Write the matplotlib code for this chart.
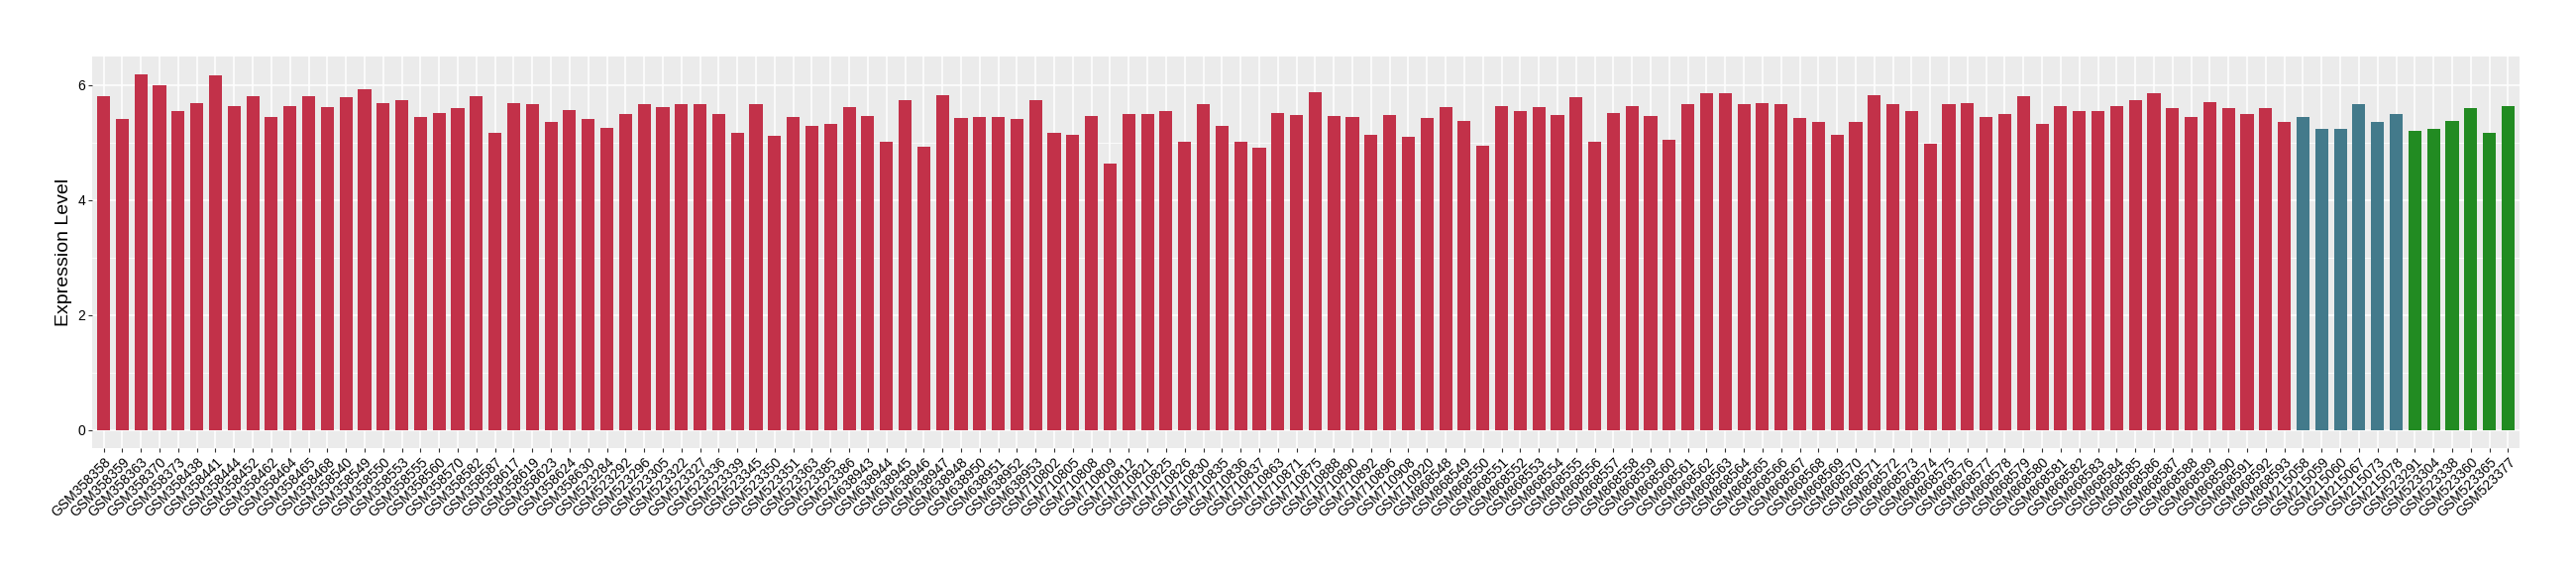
import numpy as np
import matplotlib
matplotlib.use("Agg")
import matplotlib.pyplot as plt
from matplotlib.ticker import MultipleLocator

# first group (red)
red_samples = [
    "GSM358358", "GSM358359", "GSM358363", "GSM358370", "GSM358373", "GSM358438",
    "GSM358441", "GSM358444", "GSM358452", "GSM358462", "GSM358464", "GSM358465",
    "GSM358468", "GSM358540", "GSM358549", "GSM358550", "GSM358553", "GSM358555",
    "GSM358560", "GSM358570", "GSM358582", "GSM358587", "GSM358617", "GSM358619",
    "GSM358623", "GSM358624", "GSM358630", "GSM523284", "GSM523292", "GSM523296",
    "GSM523305", "GSM523322", "GSM523327", "GSM523336", "GSM523339", "GSM523345",
    "GSM523350", "GSM523351", "GSM523363", "GSM523385", "GSM523386", "GSM638943",
    "GSM638944", "GSM638945", "GSM638946", "GSM638947", "GSM638948", "GSM638950",
    "GSM638951", "GSM638952", "GSM638953", "GSM710802", "GSM710805", "GSM710808",
    "GSM710809", "GSM710812", "GSM710821", "GSM710825", "GSM710826", "GSM710830",
    "GSM710835", "GSM710836", "GSM710837", "GSM710863", "GSM710871", "GSM710875",
    "GSM710888", "GSM710890", "GSM710892", "GSM710896", "GSM710908", "GSM710920",
    "GSM868548", "GSM868549", "GSM868550", "GSM868551", "GSM868552", "GSM868553",
    "GSM868554", "GSM868555", "GSM868556", "GSM868557", "GSM868558", "GSM868559",
    "GSM868560", "GSM868561", "GSM868562", "GSM868563", "GSM868564", "GSM868565",
    "GSM868566", "GSM868567", "GSM868568", "GSM868569", "GSM868570", "GSM868571",
    "GSM868572", "GSM868573", "GSM868574", "GSM868575", "GSM868576", "GSM868577",
    "GSM868578", "GSM868579", "GSM868580", "GSM868581", "GSM868582", "GSM868583",
    "GSM868584", "GSM868585", "GSM868586", "GSM868587", "GSM868588", "GSM868589",
    "GSM868590", "GSM868591", "GSM868592", "GSM868593",
]
red_values = [
    5.81, 5.40, 6.19, 5.99, 5.54, 5.69, 6.17, 5.64, 5.81, 5.44, 5.64, 5.80,
    5.61, 5.78, 5.93, 5.69, 5.73, 5.44, 5.52, 5.59, 5.80, 5.16, 5.69, 5.67,
    5.35, 5.57, 5.40, 5.26, 5.50, 5.67, 5.61, 5.66, 5.67, 5.50, 5.16, 5.66,
    5.12, 5.45, 5.29, 5.33, 5.61, 5.46, 5.02, 5.74, 4.93, 5.83, 5.42, 5.44,
    5.45, 5.40, 5.74, 5.16, 5.14, 5.46, 4.64, 5.50, 5.50, 5.55, 5.02, 5.66,
    5.29, 5.02, 4.91, 5.52, 5.48, 5.88, 5.46, 5.45, 5.14, 5.48, 5.10, 5.42,
    5.61, 5.38, 4.95, 5.63, 5.54, 5.61, 5.48, 5.78, 5.02, 5.52, 5.63, 5.46,
    5.05, 5.67, 5.86, 5.86, 5.66, 5.69, 5.67, 5.42, 5.35, 5.14, 5.35, 5.83,
    5.66, 5.55, 4.97, 5.66, 5.69, 5.44, 5.50, 5.81, 5.33, 5.63, 5.54, 5.54,
    5.63, 5.74, 5.85, 5.59, 5.44, 5.71, 5.59, 5.50, 5.59, 5.36,
]

# second group (blue)
blue_samples = ["GSM215058", "GSM215059", "GSM215060", "GSM215067", "GSM215073", "GSM215078"]
blue_values = [5.45, 5.23, 5.23, 5.67, 5.36, 5.50]

# third group (green)
green_samples = ["GSM523291", "GSM523304", "GSM523338", "GSM523360", "GSM523365", "GSM523377"]
green_values = [5.21, 5.24, 5.38, 5.59, 5.17, 5.64]

red_color = "#C23149"
blue_color = "#437A8B"
green_color = "#228B22"

samples = red_samples + blue_samples + green_samples
values = red_values + blue_values + green_values
colors = ([red_color] * len(red_samples) + [blue_color] * len(blue_samples)
          + [green_color] * len(green_samples))

plt.rcParams["font.family"] = ["Liberation Sans", "DejaVu Sans"]

W, H = 2600, 580
fig = plt.figure(figsize=(W / 100, H / 100), dpi=100)
# panel in pixels: left 93.3, right 2542.7, top 56.7, bottom 451.7
ax = fig.add_axes([93.3 / W, 1 - 451.7 / H, (2542.7 - 93.3) / W, (451.7 - 56.7) / H])

x = np.arange(len(samples))
ax.set_facecolor("#EBEBEB")

# ggplot-like expansion
ymax = max(values)
pad = ymax * 0.05
ax.set_ylim(-pad, ymax + pad)
ax.set_xlim(-0.6, len(samples) - 1 + 0.6)
ax.yaxis.set_major_locator(MultipleLocator(2))
ax.yaxis.set_minor_locator(MultipleLocator(1))
ax.grid(which="major", axis="both", color="white", linewidth=1.1)
ax.grid(which="minor", axis="y", color="white", linewidth=0.55)
ax.set_axisbelow(True)

ax.bar(x, values, width=0.7, color=colors, zorder=2)

ax.set_xticks(x)
ax.set_xticklabels(samples, rotation=45, ha="right", va="top",
                   rotation_mode="anchor", fontsize=10, color="black")
ax.tick_params(axis="both", which="major", length=2.6, width=0.8,
               color="#333333", labelcolor="black", labelsize=10, pad=2.5)
ax.tick_params(axis="y", which="minor", length=0)
ax.set_ylabel("Expression Level", fontsize=14, color="black")
ax.yaxis.set_label_coords((73 - 93.3) / (2542.7 - 93.3), 0.5)

for s in ax.spines.values():
    s.set_visible(False)

fig.savefig("out.png", dpi=100)
